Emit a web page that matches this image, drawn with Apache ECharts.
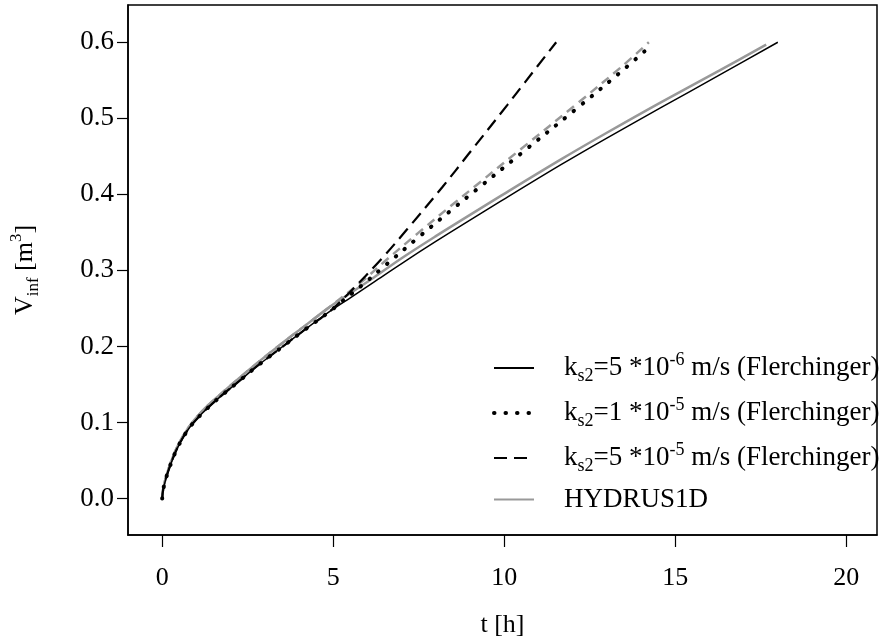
<!DOCTYPE html>
<html>
<head>
<meta charset="utf-8">
<script src="https://cdn.jsdelivr.net/npm/echarts@6/dist/echarts.min.js"></script>
<style>html,body{margin:0;padding:0;background:#fff}#c{width:880px;height:643px}</style>
</head>
<body>
<div id="c"></div>
<script>
// ---- data ----
var xTicks = [0, 5, 10, 15, 20];
var yTicks = [0, 0.1, 0.2, 0.3, 0.4, 0.5, 0.6];

var tSolid = [0, 0.03, 0.17, 0.44, 0.78, 1.17, 1.65, 2.24, 2.8, 3.47, 4.2, 4.9, 5.5, 6.2, 7.0, 8.0, 9.0, 9.9, 11.66, 13.0, 14.58, 16.3, 18.0];
var vSolid = [0, 0.012, 0.035, 0.066, 0.092, 0.112, 0.132, 0.154, 0.175, 0.198, 0.223, 0.246, 0.264, 0.285, 0.309, 0.338, 0.366, 0.391, 0.439, 0.474, 0.514, 0.557, 0.6];

var tDotted = [0, 0.03, 0.17, 0.44, 0.78, 1.17, 1.65, 2.24, 2.8, 3.47, 4.2, 4.9, 5.2, 5.83, 6.51, 7.48, 8.5, 9.13, 10.5, 12.15, 13.41, 14.1];
var vDotted = [0, 0.012, 0.035, 0.066, 0.092, 0.112, 0.132, 0.154, 0.175, 0.198, 0.223, 0.246, 0.257, 0.28, 0.306, 0.343, 0.381, 0.404, 0.454, 0.514, 0.561, 0.588];

var tDashed = [0, 0.03, 0.17, 0.44, 0.78, 1.17, 1.65, 2.24, 2.8, 3.47, 4.2, 4.9, 5.5, 6.41, 7.16, 8.2, 8.94, 10.1, 10.6, 11.52];
var vDashed = [0, 0.012, 0.035, 0.066, 0.092, 0.112, 0.132, 0.154, 0.175, 0.198, 0.223, 0.246, 0.272, 0.315, 0.354, 0.41, 0.452, 0.518, 0.547, 0.6];

var tHydrusA = [0, 0.03, 0.17, 0.44, 0.78, 1.17, 1.65, 2.24, 2.8, 3.47, 4.2, 4.9, 5.5, 6.2, 7.0, 8.0, 9.0, 9.9, 11.66, 13.0, 14.58, 16.3, 17.66];
var vHydrusA = [0, 0.013, 0.037, 0.068, 0.094, 0.115, 0.135, 0.158, 0.179, 0.203, 0.228, 0.252, 0.27, 0.291, 0.316, 0.345, 0.373, 0.398, 0.446, 0.481, 0.521, 0.563, 0.597];

var tHydrusB = [0, 0.03, 0.17, 0.44, 0.78, 1.17, 1.65, 2.24, 2.8, 3.47, 4.2, 4.9, 5.83, 6.51, 7.48, 8.5, 9.13, 10.5, 12.15, 13.41, 14.23];
var vHydrusB = [0, 0.013, 0.037, 0.068, 0.094, 0.115, 0.135, 0.158, 0.179, 0.203, 0.228, 0.252, 0.285, 0.312, 0.349, 0.387, 0.41, 0.46, 0.52, 0.567, 0.6];

var nameSolid = 'ks2=5e-6';
var nameDotted = 'ks2=1e-5';
var nameDashed = 'ks2=5e-5';
var nameHydrus = 'HYDRUS1D';

function pairs(t, v) { return t.map(function (x, i) { return [x, v[i]]; }); }

var FONT = '"Liberation Serif", "Times New Roman", serif';
var legendText = {};
legendText[nameSolid] = '{m|k}{sub|s2}{m|=5 *10}{sup|-6}{m| m/s (Flerchinger)}';
legendText[nameDotted] = '{m|k}{sub|s2}{m|=1 *10}{sup|-5}{m| m/s (Flerchinger)}';
legendText[nameDashed] = '{m|k}{sub|s2}{m|=5 *10}{sup|-5}{m| m/s (Flerchinger)}';
legendText[nameHydrus] = '{m|HYDRUS1D}';

var SM = 0.35;
var chart = echarts.init(document.getElementById('c'), null, { renderer: 'canvas' });
chart.setOption({
  animation: false,
  backgroundColor: '#fff',
  grid: { left: 126, right: 3, top: 5, bottom: 108, show: true, borderColor: '#000', borderWidth: 1.5, backgroundColor: 'transparent' },
  xAxis: {
    type: 'value', min: -1, max: 20.9,
    name: 't [h]', nameLocation: 'middle', nameGap: 77,
    nameTextStyle: { fontFamily: FONT, fontSize: 26, color: '#000' },
    axisLine: { show: true, onZero: false, lineStyle: { color: '#000', width: 1.5 } },
    axisTick: { show: true, length: 12, customValues: xTicks, lineStyle: { color: '#000', width: 1.2 } },
    axisLabel: { customValues: xTicks, margin: 30, fontFamily: FONT, fontSize: 26, color: '#000' },
    splitLine: { show: false }
  },
  yAxis: {
    type: 'value', min: -0.048, max: 0.649,
    name: '{m|V}{sub|inf}{m| [m}{sup|3}{m|]}', nameLocation: 'middle', nameGap: 86, nameRotate: 90,
    nameTextStyle: {
      color: '#000',
      rich: {
        m: { fontFamily: FONT, fontSize: 26, color: '#000', lineHeight: 34, verticalAlign: 'middle' },
        sub: { fontFamily: FONT, fontSize: 17, color: '#000', verticalAlign: 'bottom' },
        sup: { fontFamily: FONT, fontSize: 17, color: '#000', verticalAlign: 'top' }
      }
    },
    axisLine: { show: true, onZero: false, lineStyle: { color: '#000', width: 1.5 } },
    axisTick: { show: true, length: 11, customValues: yTicks, lineStyle: { color: '#000', width: 1.2 } },
    axisLabel: { customValues: yTicks, margin: 14, fontFamily: FONT, fontSize: 27, color: '#000',
      formatter: function (v) { return v.toFixed(1); } },
    splitLine: { show: false }
  },
  legend: {
    orient: 'vertical', left: 487, top: 346,
    itemWidth: 40, itemHeight: 20, itemGap: 11,
    data: [
      { name: nameSolid },
      { name: nameDotted, lineStyle: { width: 4, color: '#000', type: [0.5, 11], cap: 'round' } },
      { name: nameDashed },
      { name: nameHydrus }
    ],
    formatter: function (n) { return legendText[n]; },
    itemStyle: { opacity: 0 },
    textStyle: {
      padding: [0, 0, 0, 25],
      rich: {
        m: { fontFamily: FONT, fontSize: 27, color: '#000', lineHeight: 34, verticalAlign: 'middle' },
        sub: { fontFamily: FONT, fontSize: 18, color: '#000', verticalAlign: 'bottom' },
        sup: { fontFamily: FONT, fontSize: 18, color: '#000', verticalAlign: 'top' }
      }
    },
    selectedMode: false
  },
  series: [
    { name: nameHydrus, type: 'line', data: pairs(tHydrusA, vHydrusA), symbol: 'none', smooth: SM,
      lineStyle: { color: '#999', width: 2.5 }, itemStyle: { color: '#999' }, z: 2 },
    { name: nameHydrus, type: 'line', data: pairs(tHydrusB, vHydrusB), symbol: 'none', smooth: SM,
      lineStyle: { color: '#999', width: 2.5, type: [9, 6] }, itemStyle: { color: '#999' }, z: 2 },
    { name: nameSolid, type: 'line', data: pairs(tSolid, vSolid), symbol: 'none', smooth: SM,
      lineStyle: { color: '#000', width: 1.5 }, itemStyle: { color: '#000' }, z: 3 },
    { name: nameDotted, type: 'line', data: pairs(tDotted, vDotted), symbol: 'none', smooth: SM,
      lineStyle: { color: '#000', width: 4, type: [0.5, 11], cap: 'round' }, itemStyle: { color: '#000' }, z: 4 },
    { name: nameDashed, type: 'line', data: pairs(tDashed, vDashed), symbol: 'none', smooth: SM,
      lineStyle: { color: '#000', width: 2.2, type: [13, 7] }, itemStyle: { color: '#000' }, z: 4 }
  ]
});
</script>
</body>
</html>
